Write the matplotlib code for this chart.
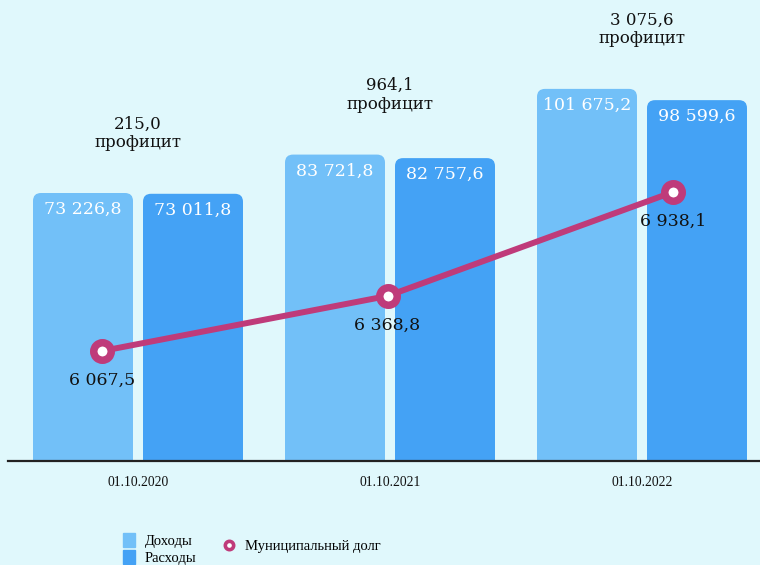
import numpy as np
import matplotlib
matplotlib.use("Agg")
import matplotlib.pyplot as plt
from matplotlib.patches import FancyBboxPatch, Patch
from matplotlib.lines import Line2D

# данные
dates = ["01.10.2020", "01.10.2021", "01.10.2022"]
dohody = [73226.8, 83721.8, 101675.2]
rashody = [73011.8, 82757.6, 98599.6]
profit = [215.0, 964.1, 3075.6]
dolg = [6067.5, 6368.8, 6938.1]

bg = "#E0F8FC"
c_doh = "#72C0F8"
c_ras = "#44A2F5"
c_line = "#BF3B7A"


def fmt(v):
    return f"{v:,.1f}".replace(",", " ").replace(".", ",")


W, H = 760, 565
fig = plt.figure(figsize=(W / 100, H / 100), dpi=100, facecolor=bg)
rect = [8 / W, 104 / H, 752 / W, 461 / H]
ax = fig.add_axes(rect)
ax.set_facecolor(bg)

x = np.arange(len(dates))
bw = 100 / 252
off = 55 / 252
ax.set_xlim(-130 / 252, 752 / 252 - 130 / 252)
ax.set_ylim(0, 461 / (268 / 73226.8))

bars1 = ax.bar(x - off, dohody, bw, color=c_doh)
bars2 = ax.bar(x + off, rashody, bw, color=c_ras)

# скруглённые верхние углы
r = 8 / 252
asp = (8 / (268 / 73226.8)) / r
for bars in (bars1, bars2):
    for b in bars:
        b.set_visible(False)
        p = FancyBboxPatch((b.get_x(), -5000), b.get_width(), b.get_height() + 5000,
                           boxstyle=f"round,pad=0,rounding_size={r}",
                           mutation_aspect=asp, facecolor=b.get_facecolor(),
                           edgecolor="none", zorder=2)
        ax.add_patch(p)
        ax.annotate(fmt(b.get_height()), (b.get_x() + b.get_width() / 2, b.get_height()),
                    xytext=(0, -12), textcoords="offset points", ha="center", va="center",
                    color="white", fontsize=12.5, family="DejaVu Serif", zorder=3)

for i in range(len(dates)):
    top = max(dohody[i], rashody[i])
    ax.annotate(fmt(profit[i]) + "\nпрофицит", (x[i], top), xytext=(0, 43),
                textcoords="offset points", ha="center", va="center",
                fontsize=12, family="DejaVu Serif", linespacing=1.1, color="#111111")

for s in ["top", "right", "left"]:
    ax.spines[s].set_visible(False)
ax.spines["bottom"].set_linewidth(1.6)
ax.spines["bottom"].set_color("#222222")
ax.set_yticks([])
ax.set_xticks(x)
ax.set_xticklabels(dates, family="Liberation Serif", fontsize=9.8, color="#111111")
ax.tick_params(axis="x", length=0, pad=11)

# муниципальный долг
ax2 = fig.add_axes(rect)
ax2.set_xlim(-94 / 285.5, 752 / 285.5 - 94 / 285.5)
ymin = dolg[0] - 110 / 0.1826
ax2.set_ylim(ymin, ymin + 461 / 0.1826)
ax2.axis("off")
ax2.plot(x, dolg, color=c_line, lw=4.3, marker="o", ms=12.6, mew=5.4,
         mfc="white", mec=c_line, solid_capstyle="round")
for i, v in enumerate(dolg):
    ax2.annotate(fmt(v), (x[i], v), xytext=(0, -21), textcoords="offset points",
                 ha="center", va="center", fontsize=12.5, family="DejaVu Serif",
                 color="#111111")

# легенда
h1 = [Patch(color=c_doh), Patch(color=c_ras)]
fig.legend(h1, ["Доходы", "Расходы"], loc="upper left",
           bbox_to_anchor=(123 / W, 1 - 533 / H), frameon=False,
           borderpad=0, borderaxespad=0, handlelength=0.8, handleheight=1.1,
           handletextpad=0.7, labelspacing=0.12,
           prop={"family": "Liberation Serif", "size": 10.5})
h2 = [Line2D([], [], color=c_line, marker="o", ls="none", ms=6, mew=2.6, mfc="white")]
fig.legend(h2, ["Муниципальный долг"], loc="center left",
           bbox_to_anchor=(222 / W, 1 - 546 / H), frameon=False,
           borderpad=0, borderaxespad=0, handlelength=1.0, handletextpad=0.6,
           prop={"family": "Liberation Serif", "size": 10.5})

fig.savefig("out.png", dpi=100, facecolor=bg)
